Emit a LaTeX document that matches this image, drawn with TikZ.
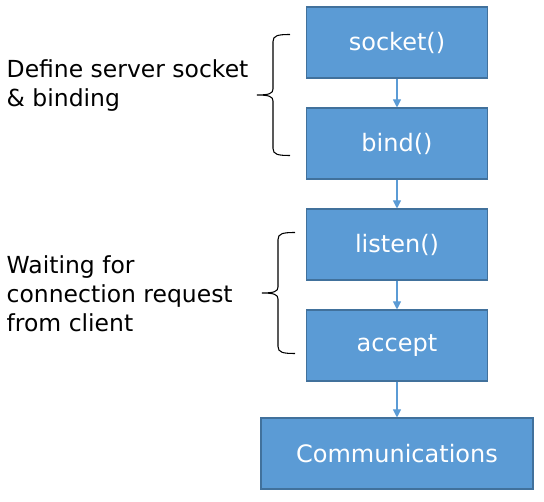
\documentclass[tikz,border=0pt]{standalone}
\usepackage{fontspec}
\setmainfont{DejaVu Sans}
\usetikzlibrary{arrows.meta}
\definecolor{boxblue}{HTML}{5B9BD5}
\definecolor{boxedge}{HTML}{41719C}
\tikzset{stepbox/.style = {draw=boxedge, fill=boxblue, text=white, line width=0.8pt,
                           minimum width=135.75pt, minimum height=53.25pt,
                           inner sep=0pt, font=\fontsize{18}{21}\selectfont},
         flow/.style = {draw=boxblue, line width=0.8pt, -{Triangle[width=6pt,length=6pt]}},
         note/.style = {align=left, anchor=west, font=\fontsize{17.6}{21.75}\selectfont},
         curly/.pic = {\draw[line width=0.8pt] (33,-#1) .. controls (21,-#1) and (16,-#1+1) .. (16,-#1+7)
                           -- (16,-6) .. controls (16,-1.5) and (12,0) .. (0,0)
                           .. controls (12,0) and (16,1.5) .. (16,6)
                           -- (16,#1-7) .. controls (16,#1-1) and (21,#1) .. (33,#1);}}

\begin{document}
\begin{tikzpicture}[x=0.75pt,y=-0.75pt]
    \useasboundingbox (0,0) rectangle (544,502);

        \node[stepbox] (socket) at (397,42.5) {socket()};
        \node[stepbox] (bind) at (397,143.5) {bind()};
        \node[stepbox] (listen) at (397,244.5) {listen()};
        \node[stepbox] (accept) at (397,345.5) {accept};
        \node[stepbox, minimum width=204pt] (comm) at (397,453.5) {Communications};

        \draw[flow](socket)--(bind);
        \draw[flow](bind)--(listen);
        \draw[flow](listen)--(accept);
        \draw[flow](accept)--(comm);

        \draw (257,95)pic{curly=60.5};
        \draw (262,293)pic{curly=60.5};

        \node[note] (define) at (2,86) {Define server socket\\\& binding};
        \node[note] (waiting) at (2,294) {Waiting for\\connection request\\from client};
\end{tikzpicture}
\end{document}
